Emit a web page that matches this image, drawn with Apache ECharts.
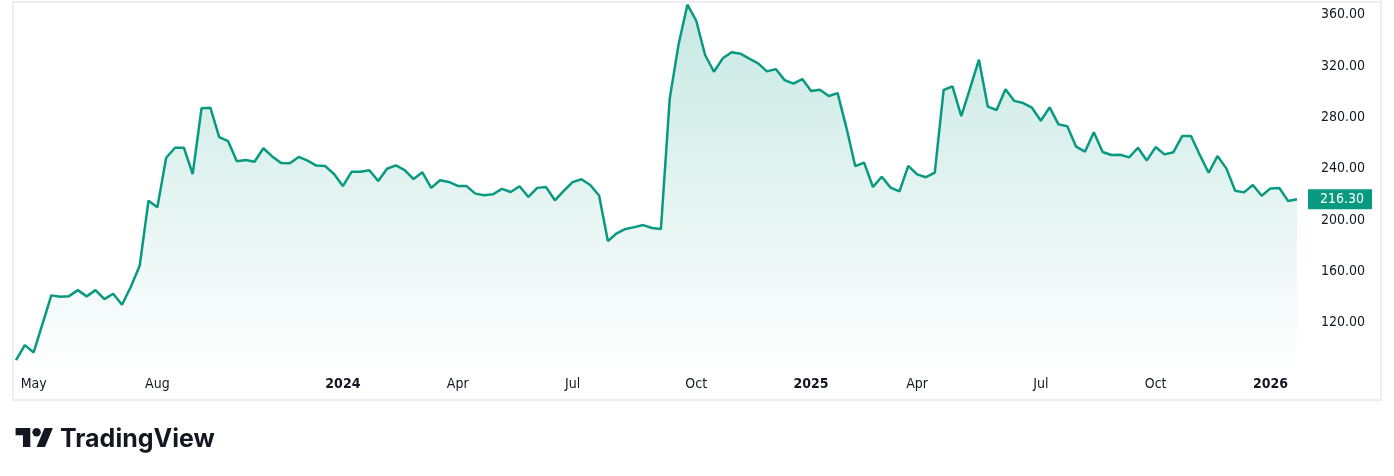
<!DOCTYPE html>
<html>
<head>
<meta charset="utf-8">
<script src="https://cdn.jsdelivr.net/npm/echarts@6/dist/echarts.min.js"></script>
<style>
  html, body { margin: 0; padding: 0; background: #ffffff; }
  #chart { width: 1394px; height: 476px; }
</style>
</head>
<body>
<div id="chart"></div>
<script>
// ---- data ----
const startDate = '2023-04-17'; // first weekly bar (Monday)
const prices = [
  90.8, 102.5, 96.8, 119.0, 141.3, 140.2, 140.7, 145.4, 140.5, 145.4,
  138.4, 142.6, 134.0, 148.0, 164.4, 215.1, 209.9, 248.6, 256.4, 256.4,
  235.9, 287.1, 287.6, 264.7, 261.6, 245.8, 246.8, 245.5, 256.0, 249.6,
  244.4, 244.3, 249.2, 246.4, 242.5, 242.1, 235.9, 226.5, 237.7, 237.7,
  238.9, 230.4, 240.0, 242.6, 239.0, 232.0, 237.2, 225.1, 231.0, 229.7,
  226.6, 226.5, 220.6, 219.3, 220.1, 224.3, 221.9, 226.4, 218.0, 225.1,
  225.7, 215.4, 222.8, 229.6, 231.8, 227.3, 219.2, 183.6, 189.7, 193.1,
  194.5, 196.1, 193.8, 193.0, 294.9, 337.0, 367.9, 355.4, 328.7, 315.6,
  326.1, 330.8, 329.7, 325.8, 322.2, 315.9, 317.7, 309.1, 306.3, 309.9,
  300.6, 301.6, 296.7, 299.0, 271.9, 242.0, 244.8, 225.8, 233.8, 225.3,
  222.4, 242.3, 235.6, 233.4, 236.9, 301.4, 304.3, 281.1, 302.8, 325.0,
  288.4, 285.8, 301.9, 292.9, 291.2, 287.6, 277.4, 287.9, 274.6, 273.1,
  257.2, 253.3, 268.4, 253.1, 250.7, 250.9, 248.9, 256.4, 246.5, 256.9,
  251.2, 252.8, 265.5, 265.5, 250.7, 236.9, 249.9, 240.3, 222.8, 221.6,
  227.3, 218.9, 224.7, 225.0, 214.8, 216.3
];
const lastPrice = 216.30;
const xTickLabels = [
  ['2023-05-01', 'May'], ['2023-08-07', 'Aug'], ['2024-01-01', '2024'],
  ['2024-04-01', 'Apr'], ['2024-07-01', 'Jul'], ['2024-10-07', 'Oct'],
  ['2025-01-06', '2025'], ['2025-03-31', 'Apr'], ['2025-07-07', 'Jul'],
  ['2025-10-06', 'Oct'], ['2026-01-05', '2026']
];
const yTicks = [120, 160, 200, 240, 280, 320, 360];

// ---- build categories (weekly dates) ----
function fmt(d) {
  const m = String(d.getUTCMonth() + 1).padStart(2, '0');
  const day = String(d.getUTCDate()).padStart(2, '0');
  return d.getUTCFullYear() + '-' + m + '-' + day;
}
const dates = [];
{
  const d0 = new Date(startDate + 'T00:00:00Z');
  for (let i = 0; i < prices.length; i++) {
    dates.push(fmt(new Date(d0.getTime() + i * 7 * 86400000)));
  }
}
const tickMap = {};
xTickLabels.forEach(([d, t]) => { tickMap[d] = t; });

const GREEN = '#089981';
const TEXT = '#131722';
const FONT = '"DejaVu Sans Condensed", "DejaVu Sans", sans-serif';

const chart = echarts.init(document.getElementById('chart'), null, { renderer: 'canvas' });

const S = 1.05, LX = 15.6, LY = 423.8;
function pt(x, y) { return [LX + x * S, LY + y * S]; }

chart.setOption({
  animation: false,
  backgroundColor: '#ffffff',
  grid: { left: 16, right: 97, top: 2, bottom: 102 },
  xAxis: {
    type: 'category',
    data: dates,
    boundaryGap: false,
    axisLine: { show: false },
    axisTick: { show: false },
    splitLine: { show: false },
    axisLabel: {
      interval: (idx, val) => tickMap[val] !== undefined,
      margin: 3,
      fontFamily: FONT,
      fontSize: 14,
      color: TEXT,
      formatter: (val) => {
        const t = tickMap[val];
        if (t === undefined) return '';
        return /^\d{4}$/.test(t) ? '{b|' + t + '}' : t;
      },
      rich: { b: { fontFamily: FONT, fontSize: 14, fontWeight: 'bold', color: TEXT } }
    }
  },
  yAxis: {
    type: 'value',
    position: 'right',
    min: 80,
    max: 370,
    interval: 40,
    axisLine: { show: false },
    axisTick: { show: false },
    splitLine: { show: false },
    axisLabel: {
      align: 'left',
      margin: 24,
      fontFamily: FONT,
      fontSize: 14,
      color: TEXT,
      formatter: (v) => yTicks.includes(v) ? v.toFixed(2) : ''
    }
  },
  series: [{
    type: 'line',
    data: prices,
    symbol: 'none',
    lineStyle: { color: GREEN, width: 2.5 },
    areaStyle: {
      color: new echarts.graphic.LinearGradient(0, 0, 0, 1, [
        { offset: 0, color: 'rgba(8,153,129,0.32)' },
        { offset: 1, color: 'rgba(8,153,129,0.0)' }
      ])
    },
    markLine: {
      silent: true,
      symbol: 'none',
      lineStyle: { color: 'rgba(0,0,0,0)', width: 0 },
      data: [{ yAxis: lastPrice }],
      label: {
        show: true,
        position: 'end',
        distance: 11,
        formatter: () => lastPrice.toFixed(2),
        backgroundColor: GREEN,
        color: '#ffffff',
        fontFamily: FONT,
        fontSize: 14,
        lineHeight: 16,
        padding: [2, 8, 2, 12],
        borderRadius: 1
      }
    }
  }],
  graphic: [
    {
      type: 'rect', silent: true, z: 0,
      shape: { x: 13, y: 2, width: 1368, height: 398 },
      style: { fill: 'none', stroke: '#eceef1', lineWidth: 2 }
    },
    {
      type: 'polygon', silent: true,
      shape: { points: [pt(0,4), pt(14,4), pt(14,22), pt(7,22), pt(7,11), pt(0,11)] },
      style: { fill: TEXT }
    },
    {
      type: 'circle', silent: true,
      shape: { cx: LX + 20 * S, cy: LY + 8 * S, r: 4 * S },
      style: { fill: TEXT }
    },
    {
      type: 'polygon', silent: true,
      shape: { points: [pt(20,22), pt(27.5,4), pt(35.5,4), pt(28,22)] },
      style: { fill: TEXT }
    },
    {
      type: 'text', silent: true,
      x: 60, y: 439,
      style: {
        text: 'TradingView',
        fill: TEXT,
        font: '700 25px Inter',
        verticalAlign: 'middle',
        align: 'left'
      }
    }
  ]
});
</script>
</body>
</html>
